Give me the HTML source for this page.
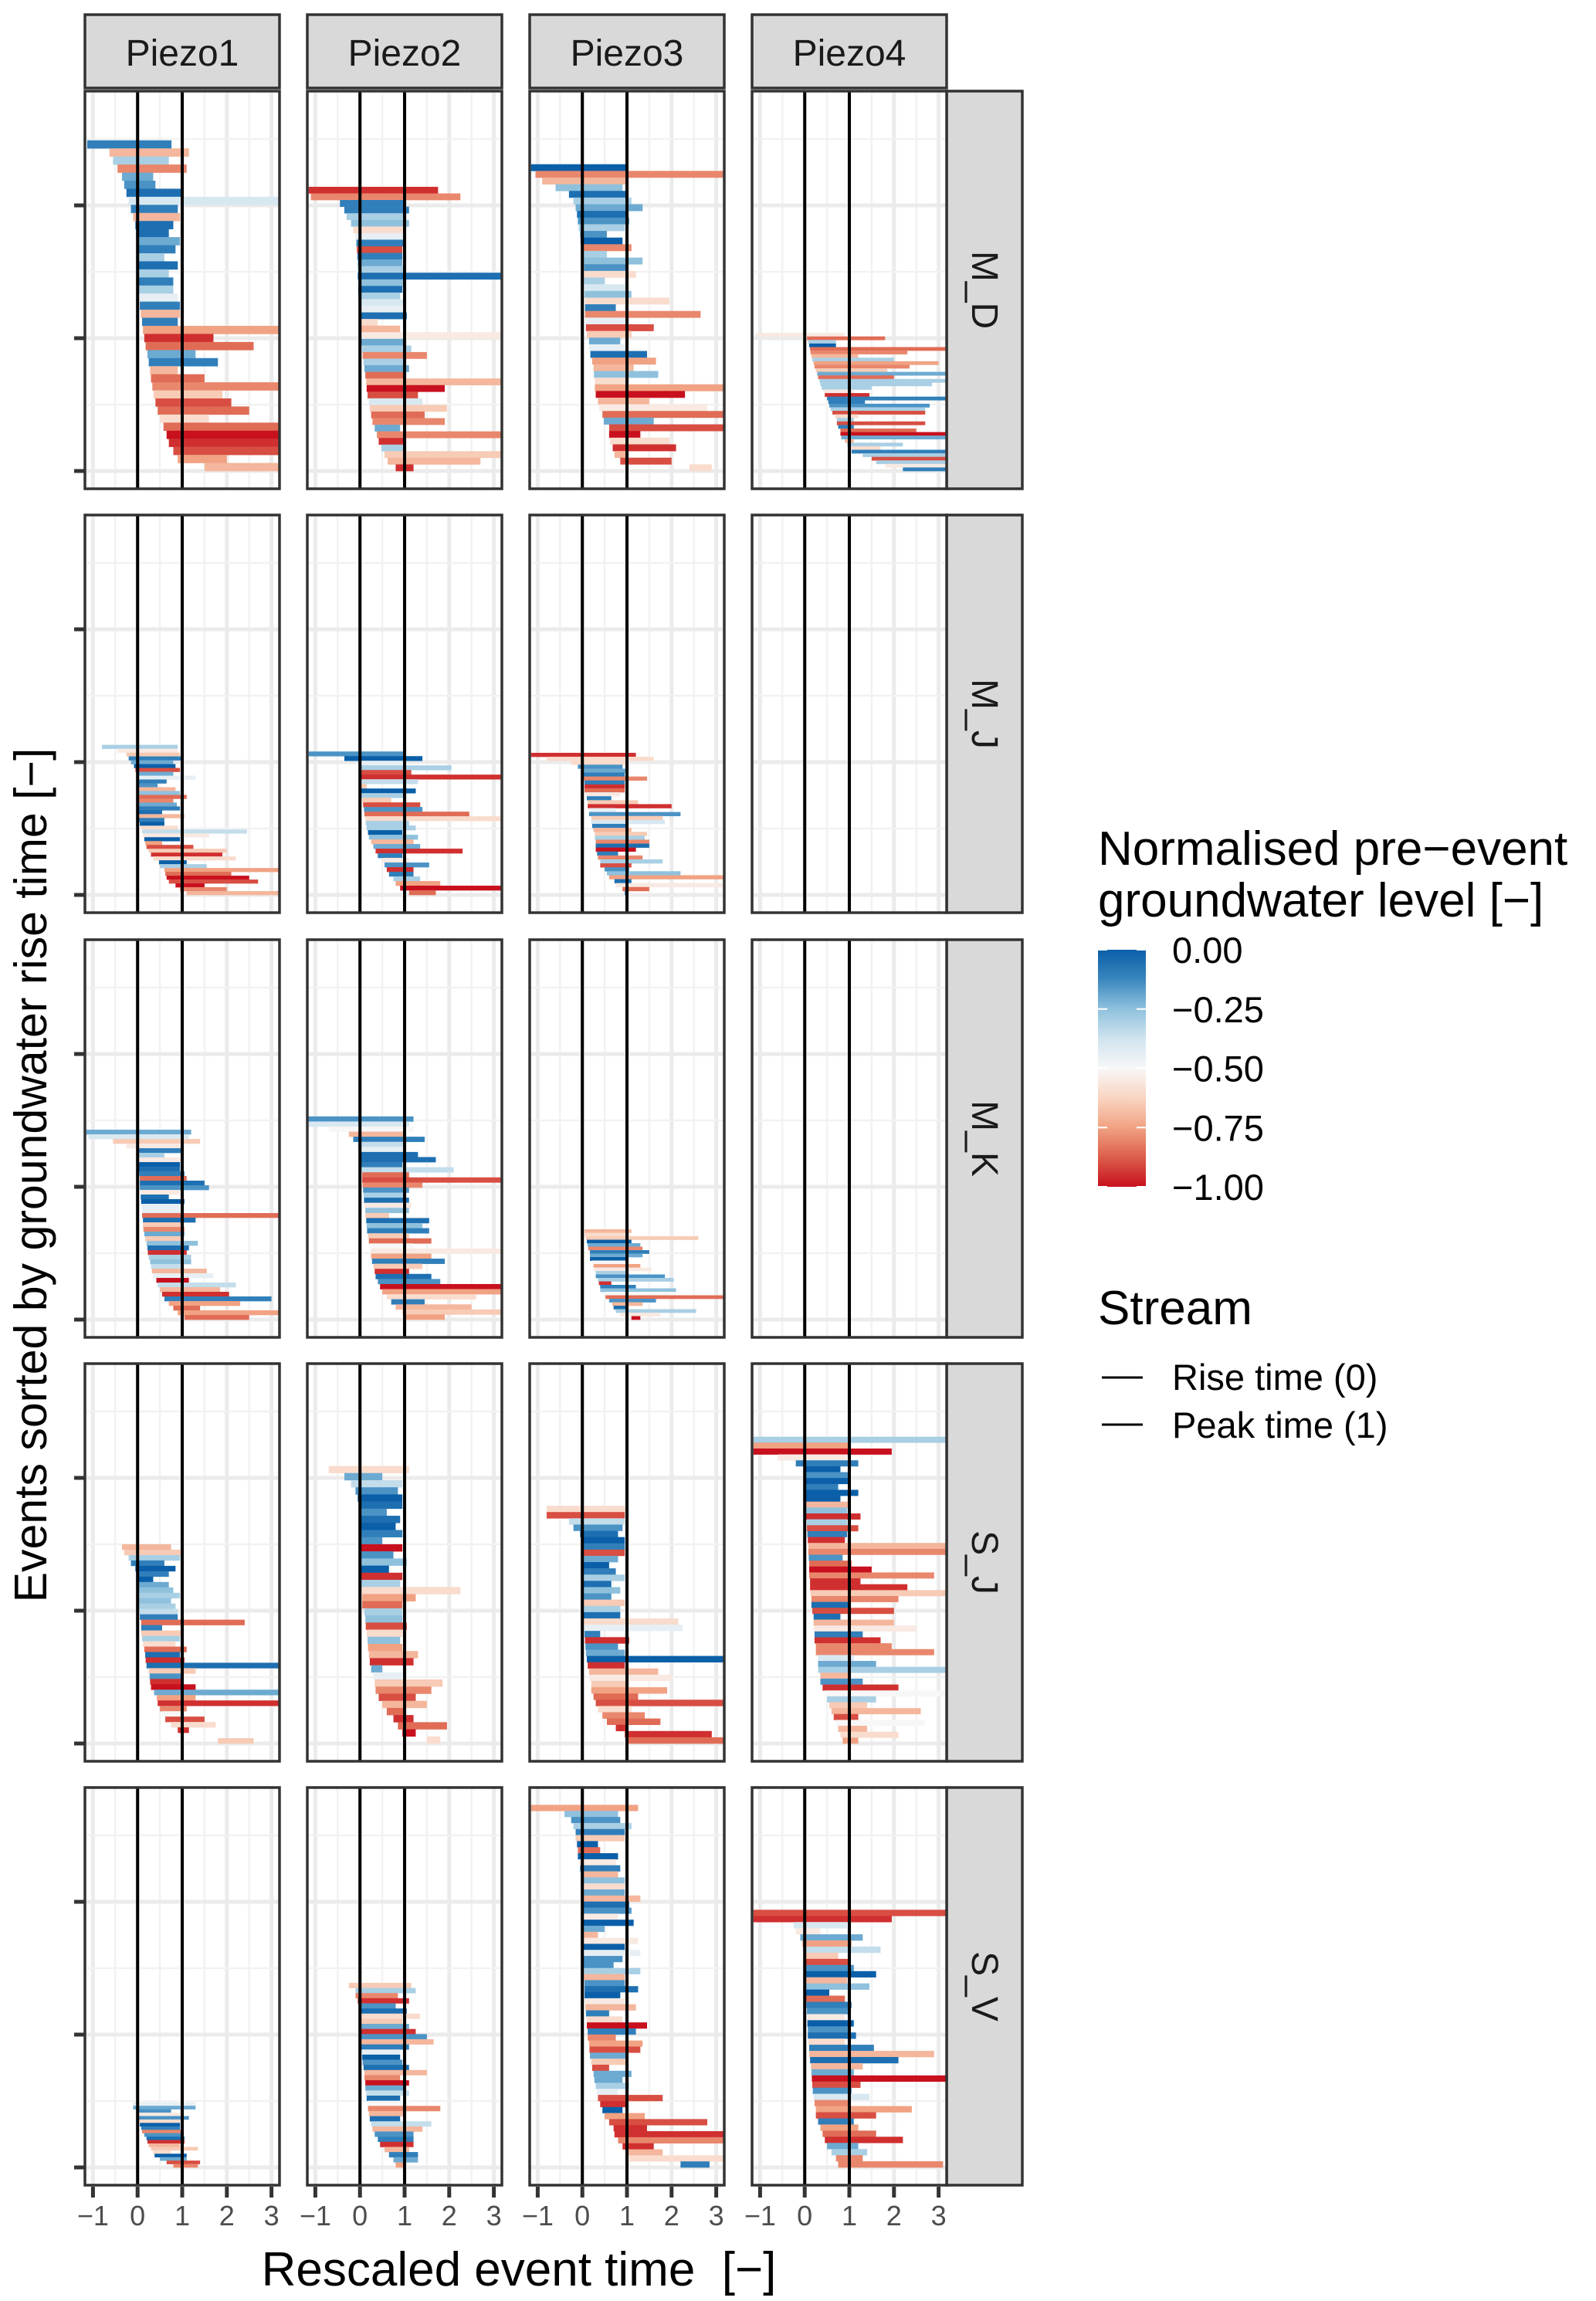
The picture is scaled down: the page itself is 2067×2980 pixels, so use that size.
<!DOCTYPE html>
<html><head><meta charset="utf-8">
<style>
html,body{margin:0;padding:0;background:#fff;}
svg{display:block;font-family:"Liberation Sans",Arial,sans-serif;}
</style></head>
<body>
<svg id="chart" width="2067" height="2980" viewBox="0 0 2067 2980" xmlns="http://www.w3.org/2000/svg">
<rect width="2067" height="2980" fill="#fff"/>
<g id="panels"></g>
<text transform="translate(60,1522) rotate(-90)" text-anchor="middle" font-size="59" fill="#000">Events sorted by groundwater rise time [−]</text>
<text x="672" y="2960" text-anchor="middle" font-size="62" fill="#000" xml:space="preserve">Rescaled event time  [−]</text>
<g>
<text x="1422" y="1120" font-size="62" fill="#000">Normalised pre−event</text>
<text x="1422" y="1187" font-size="62" fill="#000">groundwater level [−]</text>
<defs><linearGradient id="rdbu" x1="0" y1="0" x2="0" y2="1">
<stop offset="0" stop-color="#0a5fa8"/><stop offset="0.125" stop-color="#3a87bf"/><stop offset="0.25" stop-color="#8fc1dd"/><stop offset="0.375" stop-color="#d0e4ef"/><stop offset="0.5" stop-color="#f7f7f7"/><stop offset="0.625" stop-color="#f9d5c2"/><stop offset="0.75" stop-color="#f1a283"/><stop offset="0.875" stop-color="#dc5e4b"/><stop offset="1" stop-color="#c8101e"/>
</linearGradient></defs>
<rect x="1422" y="1230" width="62" height="307" fill="url(#rdbu)"/>
<g id="cbticks"></g>
</g>
<g>
<text x="1422" y="1715" font-size="62" fill="#000">Stream</text>
<line x1="1427" y1="1784" x2="1480" y2="1784" stroke="#000" stroke-width="3"/>
<text x="1518" y="1800" font-size="47" fill="#000">Rise time (0)</text>
<line x1="1427" y1="1845" x2="1480" y2="1845" stroke="#000" stroke-width="3"/>
<text x="1518" y="1862" font-size="47" fill="#000">Peak time (1)</text>
</g>
</svg>
<script>
const piezos = ["Piezo1","Piezo2","Piezo3","Piezo4"];
const sites = ["M_D","M_J","M_K","S_J","S_V"];
const xTicks = [-1,0,1,2,3];
const xTickLabels = ["−1","0","1","2","3"];
const yTicks = [0,100,200];
const legendValues = [0,-0.25,-0.5,-0.75,-1];
const legendLabels = ["0.00","−0.25","−0.50","−0.75","−1.00"];
// number of events per panel [site][piezo]
const counts = [[249,214,231,104],[113,108,107,0],[143,153,68,0],[150,209,179,231],[49,139,273,194]];
// events top->bottom: [start, end, level]
const d_MD_1=[[-1.13,0.76,-0.1],[-0.63,1.15,-0.7],[-0.55,0.7,-0.3],[-0.45,1.1,-0.8],[-0.35,0.35,-0.2],[-0.3,0.4,-0.15],[-0.25,1.0,-0.05],[-0.2,3.2,-0.4],[-0.15,0.9,-0.1],[-0.1,0.95,-0.7],[-0.05,0.8,-0.05],[0.0,0.7,-0.05],[0.02,0.95,-0.2],[0.03,0.85,-0.1],[0.03,0.6,-0.3],[0.03,0.9,-0.05],[0.03,0.7,-0.3],[0.03,0.8,-0.1],[0.03,0.8,-0.3],[0.04,0.9,-0.45],[0.05,0.95,-0.1],[0.07,0.95,-0.7],[0.1,0.9,-0.1],[0.12,3.2,-0.75],[0.15,1.7,-0.95],[0.18,2.6,-0.85],[0.22,1.3,-0.2],[0.25,1.8,-0.1],[0.28,0.9,-0.7],[0.3,1.5,-0.85],[0.33,3.2,-0.8],[0.36,1.9,-0.65],[0.4,2.1,-0.9],[0.45,2.5,-0.85],[0.5,1.6,-0.6],[0.58,3.2,-0.85],[0.65,3.2,-1],[0.7,3.2,-0.95],[0.8,3.2,-0.9],[0.9,2.0,-0.75],[1.5,3.2,-0.7]];
const d_MD_2=[[-1.15,1.75,-0.95],[-1.1,2.25,-0.8],[-0.45,1.0,-0.1],[-0.35,1.1,-0.1],[-0.3,1.0,-0.3],[-0.2,1.1,-0.25],[-0.15,1.0,-0.6],[-0.1,1.0,-0.45],[-0.08,1.0,-0.1],[-0.07,0.95,-0.9],[-0.06,0.95,-0.1],[-0.05,0.95,-0.2],[-0.05,1.0,-0.3],[-0.05,3.2,-0.05],[-0.04,1.0,-0.25],[-0.04,0.95,-0.05],[-0.04,0.9,-0.3],[-0.03,1.0,-0.4],[-0.03,0.95,-0.45],[-0.02,1.05,-0.05],[0.0,0.4,-0.6],[0.01,0.9,-0.7],[0.02,3.2,-0.55],[0.03,1.0,-0.2],[0.05,1.15,-0.3],[0.06,1.5,-0.8],[0.08,1.0,-0.3],[0.1,1.1,-0.2],[0.12,1.0,-0.85],[0.14,3.2,-0.7],[0.15,1.9,-1],[0.17,1.3,-0.9],[0.2,1.4,-0.4],[0.22,1.95,-0.65],[0.25,1.45,-0.85],[0.28,1.9,-0.8],[0.33,0.9,-0.2],[0.38,3.2,-0.8],[0.42,1.0,-0.95],[0.48,1.0,-0.3],[0.55,3.2,-0.65],[0.62,2.7,-0.7],[0.8,1.2,-0.95]];
const d_MD_3=[[-1.15,1.0,0],[-1.05,3.2,-0.8],[-0.9,1.0,-0.7],[-0.6,0.9,-0.25],[-0.3,1.0,-0.05],[-0.2,1.1,-0.3],[-0.15,1.35,-0.2],[-0.12,1.0,-0.05],[-0.1,1.05,-0.15],[-0.08,0.95,-0.3],[-0.05,0.55,-0.15],[-0.04,0.9,0],[-0.03,1.1,-0.8],[0.02,0.55,-0.3],[0.03,1.35,-0.25],[0.04,1.0,-0.15],[0.04,1.2,-0.6],[0.04,0.5,-0.3],[0.05,1.0,-0.4],[0.05,1.1,-0.25],[0.06,1.95,-0.6],[0.06,0.75,-0.1],[0.06,2.65,-0.8],[0.07,1.0,-0.45],[0.08,1.6,-0.9],[0.1,1.1,-0.65],[0.15,0.85,-0.2],[0.15,1.0,-0.45],[0.18,1.45,-0.05],[0.22,1.65,-0.75],[0.25,1.15,-0.7],[0.26,1.7,-0.25],[0.28,1.0,-0.6],[0.28,3.2,-0.75],[0.3,2.3,-1],[0.35,1.5,-0.7],[0.38,2.8,-0.55],[0.45,3.2,-0.85],[0.48,1.6,-0.2],[0.6,3.2,-0.9],[0.6,1.3,-1],[0.62,1.95,-0.6],[0.68,2.1,-0.95],[0.72,1.0,-0.7],[0.85,2.0,-0.9],[2.4,2.9,-0.6]];
const d_MD_4=[[-1.1,0.9,-0.55],[0.05,1.8,-0.85],[0.08,0.7,-0.3],[0.1,0.7,0],[0.12,3.2,-0.85],[0.13,2.3,-0.8],[0.15,1.2,-0.7],[0.17,2.0,-0.3],[0.2,3.0,-0.75],[0.22,2.35,-0.8],[0.25,1.85,-0.65],[0.28,3.2,-0.2],[0.3,2.0,-0.85],[0.33,3.2,-0.3],[0.35,2.85,-0.3],[0.38,1.5,-0.3],[0.42,1.1,-0.55],[0.45,1.45,-0.95],[0.5,3.2,-0.1],[0.53,1.35,-0.1],[0.55,2.8,-0.15],[0.58,2.7,-0.3],[0.62,2.7,-0.9],[0.68,1.2,-0.6],[0.72,1.1,-0.3],[0.72,2.7,-0.9],[0.75,1.1,-0.1],[0.8,2.5,-0.85],[0.8,3.2,-1],[0.82,3.2,-0.2],[0.9,1.1,-0.7],[0.95,2.2,-0.3],[1.0,1.7,-0.6],[1.05,3.2,-0.1],[1.3,3.2,-0.3],[1.5,3.2,-0.9],[1.6,3.2,-0.3],[1.8,3.2,-0.55],[2.2,3.2,-0.1]];
const d_MJ_1=[[-0.8,0.9,-0.3],[-0.45,0.9,-0.55],[-0.25,0.95,-0.65],[-0.2,1.0,-0.1],[-0.15,0.8,-0.2],[-0.08,0.85,0],[-0.05,0.95,-0.9],[0.0,0.8,-0.2],[0.02,1.3,-0.45],[0.02,0.65,-0.1],[0.02,0.45,-0.15],[0.02,0.85,-0.7],[0.02,0.95,-0.25],[0.02,1.1,-0.85],[0.02,0.8,-0.8],[0.02,0.88,-0.2],[0.02,0.95,-0.1],[0.02,0.55,-0.05],[0.02,1.05,-0.7],[0.02,0.6,-0.1],[0.05,0.6,0],[0.07,0.9,-0.6],[0.1,2.45,-0.35],[0.12,1.6,-0.55],[0.15,0.95,0],[0.17,0.55,-0.75],[0.2,1.25,-0.9],[0.25,2.0,-0.65],[0.3,1.9,-0.95],[0.35,2.2,-0.6],[0.48,1.1,0],[0.5,1.55,-0.3],[0.6,3.2,-0.75],[0.62,2.1,-0.85],[0.65,2.5,-1],[0.7,2.7,-0.9],[0.85,1.5,-1],[0.95,2.0,-0.8],[1.1,3.2,-0.7]];
const d_MJ_2=[[-1.15,1.0,-0.15],[-0.35,1.4,0],[0.0,1.0,-0.45],[0.02,2.05,-0.3],[0.02,1.15,-0.9],[0.02,3.2,-0.95],[0.02,1.3,-0.35],[0.02,0.15,-0.65],[0.02,1.25,0],[0.02,1.0,-0.3],[0.05,0.7,-0.65],[0.07,1.35,-0.9],[0.09,1.4,-0.15],[0.1,2.45,-0.85],[0.12,3.2,-0.6],[0.13,1.1,-0.3],[0.15,1.25,-0.3],[0.18,0.95,0],[0.2,1.3,-0.25],[0.25,1.2,-0.7],[0.3,1.35,-0.2],[0.35,2.3,-0.95],[0.4,0.95,-0.1],[0.5,1.1,-0.55],[0.55,1.55,-0.15],[0.6,1.2,-0.95],[0.65,1.2,-0.1],[0.75,1.35,-0.3],[0.8,1.8,-0.75],[0.9,3.2,-1],[1.1,1.7,-0.85]];
const d_MJ_3=[[-1.15,1.2,-0.95],[-0.8,1.6,-0.6],[-0.25,1.0,-0.6],[-0.1,0.9,-0.15],[0.02,1.0,-0.2],[0.02,0.95,-0.1],[0.03,1.45,-0.8],[0.05,0.95,-0.1],[0.05,0.95,-0.95],[0.05,0.95,-0.85],[0.07,0.85,-0.55],[0.1,0.65,-0.1],[0.12,1.25,-0.65],[0.12,2.0,-0.95],[0.15,0.75,-0.45],[0.15,2.2,-0.15],[0.2,1.8,-0.65],[0.2,1.85,-0.4],[0.22,1.0,-0.1],[0.25,1.1,-0.7],[0.28,1.45,-0.65],[0.28,1.4,-0.3],[0.3,1.5,-0.8],[0.3,1.5,-0.05],[0.3,1.2,-1],[0.33,0.8,-0.1],[0.35,1.35,-0.8],[0.4,1.8,-0.3],[0.4,1.1,-0.9],[0.5,1.05,-0.15],[0.55,2.2,-0.25],[0.6,3.2,-0.75],[0.72,1.1,-0.05],[0.75,3.2,-0.55],[0.9,1.5,-0.85],[0.95,1.0,-0.1]];
const d_MK_1=[[-1.15,1.2,-0.2],[-1.1,1.15,-0.4],[-0.55,1.4,-0.65],[-0.25,1.0,-0.55],[0.02,1.0,-0.1],[0.02,0.6,-0.3],[0.02,1.0,-0.55],[0.03,0.95,0],[0.03,0.95,-0.05],[0.04,1.05,-0.1],[0.05,1.1,-0.85],[0.05,1.5,-0.05],[0.05,1.6,-0.15],[0.06,0.95,-0.55],[0.07,0.7,-0.05],[0.08,1.05,0],[0.09,0.95,-0.45],[0.1,0.95,-0.45],[0.1,3.2,-0.85],[0.12,1.3,-0.05],[0.12,1.0,-0.65],[0.13,1.05,-0.8],[0.15,1.05,-0.2],[0.17,1.0,-0.65],[0.2,1.35,-0.25],[0.22,1.15,-0.05],[0.23,1.1,-0.95],[0.25,1.2,-0.3],[0.28,1.2,-0.25],[0.3,1.0,-0.35],[0.32,1.55,-0.7],[0.35,1.7,-0.45],[0.42,1.15,-1],[0.45,2.2,-0.35],[0.5,1.85,-0.7],[0.55,2.05,-0.95],[0.6,3.0,-0.1],[0.7,2.3,-0.75],[0.8,1.4,-0.85],[0.9,3.2,-0.75],[1.05,2.5,-0.85]];
const d_MK_2=[[-1.18,1.2,-0.15],[-1.15,1.1,-0.4],[-0.7,1.2,-0.5],[-0.25,1.0,-0.7],[-0.15,1.45,-0.1],[-0.05,1.0,-0.35],[0.0,1.0,-0.45],[0.02,1.3,-0.05],[0.02,1.7,-0.05],[0.03,0.95,-0.1],[0.04,2.1,-0.35],[0.05,1.1,-0.85],[0.05,3.2,-0.9],[0.06,1.4,-0.8],[0.07,1.1,-0.15],[0.08,1.0,-0.3],[0.09,1.1,-0.05],[0.1,1.15,-0.55],[0.12,1.1,-0.25],[0.12,0.65,-0.65],[0.14,1.55,-0.05],[0.15,1.4,-0.25],[0.16,1.55,-0.1],[0.18,1.1,-0.65],[0.2,1.6,-0.85],[0.22,1.2,-0.5],[0.24,3.2,-0.55],[0.25,1.6,-0.75],[0.27,1.9,-0.1],[0.3,1.4,-0.65],[0.33,1.1,-0.95],[0.35,1.6,-0.05],[0.4,1.8,-0.15],[0.45,3.2,-1],[0.5,3.2,-0.75],[0.6,2.6,-0.6],[0.7,1.45,-0.1],[0.8,2.5,-0.7],[0.95,3.2,-0.65],[1.0,1.9,-0.75]];
const d_MK_3=[[0.05,1.1,-0.7],[0.05,1.05,-0.6],[0.08,2.6,-0.65],[0.1,1.1,0],[0.12,1.3,-0.2],[0.13,1.35,-0.8],[0.17,1.5,-0.1],[0.17,1.35,-0.2],[0.17,1.0,0],[0.22,1.0,-0.5],[0.25,1.3,-0.75],[0.27,1.55,-0.55],[0.3,1.0,-0.3],[0.3,1.85,-0.15],[0.35,2.05,-0.3],[0.37,0.65,-0.95],[0.4,1.2,-0.1],[0.4,2.1,-0.25],[0.5,2.1,-0.5],[0.52,3.2,-0.85],[0.6,1.65,-0.15],[0.67,1.35,-0.7],[0.7,1.0,-0.05],[0.75,2.55,-0.3],[0.85,1.75,-0.55],[1.1,1.3,-1]];
const d_SJ_1=[[-0.35,0.75,-0.7],[-0.3,1.0,-0.65],[-0.2,0.95,-0.3],[-0.15,0.6,-0.1],[-0.05,0.85,0],[0.02,0.7,-0.1],[0.02,0.35,0],[0.02,0.7,-0.2],[0.02,0.8,-0.25],[0.02,0.95,-0.3],[0.02,0.75,-0.25],[0.02,0.85,-0.3],[0.02,0.9,-0.35],[0.05,0.9,-0.1],[0.08,2.4,-0.85],[0.08,0.55,-0.1],[0.08,1.0,-0.65],[0.1,0.95,-0.3],[0.12,0.85,-0.6],[0.15,1.1,-0.85],[0.17,0.95,-0.05],[0.18,1.05,-0.95],[0.2,3.2,-0.05],[0.25,1.3,-0.65],[0.27,1.0,-0.15],[0.28,1.0,-0.95],[0.3,1.3,-1],[0.37,3.2,-0.2],[0.43,1.3,-0.75],[0.45,3.2,-0.95],[0.5,1.1,-0.8],[0.55,1.0,-0.5],[0.62,1.5,-0.9],[0.75,1.75,-0.6],[0.9,1.15,-0.95],[1.0,1.0,-0.5],[1.8,2.6,-0.65]];
const d_SJ_2=[[-0.7,1.1,-0.6],[-0.35,0.5,-0.2],[-0.2,0.95,-0.35],[-0.1,0.85,-0.15],[-0.05,0.95,0],[0.0,0.95,-0.05],[0.02,0.6,-0.15],[0.02,0.9,-0.05],[0.02,0.8,0],[0.02,0.95,-0.1],[0.02,0.5,-0.15],[0.02,0.95,-1],[0.02,0.75,-0.15],[0.02,1.05,-0.25],[0.02,0.65,0],[0.02,0.95,-0.95],[0.03,0.9,-0.3],[0.04,2.25,-0.6],[0.05,1.25,-0.75],[0.05,0.95,-0.85],[0.1,0.95,-0.3],[0.12,0.95,-0.25],[0.13,1.05,-0.9],[0.15,0.95,-0.6],[0.17,0.9,-0.25],[0.18,0.95,-0.75],[0.2,1.3,-0.7],[0.22,1.2,-0.95],[0.25,0.5,-0.2],[0.3,0.95,-0.45],[0.33,1.85,-0.65],[0.35,1.6,-0.8],[0.42,1.25,-0.9],[0.5,1.5,-0.7],[0.6,1.0,-0.85],[0.75,1.2,-0.95],[0.85,1.95,-0.85],[0.95,1.25,-1],[1.5,1.8,-0.6]];
const d_SJ_3=[[-0.8,1.0,-0.6],[-0.8,0.95,-0.9],[-0.3,0.95,-0.35],[-0.2,0.9,-0.15],[-0.05,0.8,-0.05],[0.0,0.95,0],[0.02,0.95,-0.1],[0.02,0.95,-0.9],[0.02,0.8,-0.2],[0.02,0.6,0],[0.02,0.75,-0.1],[0.02,0.95,-0.3],[0.02,0.65,-0.05],[0.02,0.85,-0.25],[0.02,0.65,-0.15],[0.02,0.95,-0.65],[0.02,0.85,-0.3],[0.02,0.85,-0.05],[0.03,2.15,-0.6],[0.04,2.25,-0.45],[0.05,0.4,-0.1],[0.06,1.05,-0.95],[0.07,0.8,-0.15],[0.08,0.95,-0.2],[0.1,3.2,0],[0.12,0.95,-0.95],[0.15,1.7,-0.7],[0.17,2.0,-0.55],[0.2,1.0,-0.65],[0.2,1.9,-0.75],[0.25,1.25,-0.85],[0.3,3.2,-0.9],[0.35,1.1,-0.6],[0.45,1.4,-0.8],[0.55,1.75,-0.85],[0.75,1.0,-0.95],[0.95,2.9,-0.95],[1.0,3.2,-0.85]];
const d_SJ_4=[[-1.15,3.2,-0.3],[-1.15,1.0,-0.75],[-1.15,1.95,-1],[-0.6,0.95,-0.55],[-0.2,1.2,-0.1],[0.02,0.8,0],[0.02,1.0,-0.15],[0.02,1.0,0],[0.02,0.75,-0.1],[0.02,1.2,0],[0.02,0.8,0],[0.03,1.0,-0.7],[0.03,0.95,-0.25],[0.03,1.25,-0.95],[0.05,0.95,-0.3],[0.05,1.2,-0.9],[0.06,0.95,-0.1],[0.07,0.9,-0.95],[0.08,3.2,-0.7],[0.08,3.2,-0.8],[0.09,0.85,-0.15],[0.1,1.05,-0.85],[0.1,1.5,-1],[0.1,2.9,-0.8],[0.12,1.25,-0.95],[0.12,2.3,-0.95],[0.13,3.2,-0.65],[0.15,2.1,-0.8],[0.15,1.0,-0.05],[0.17,2.0,-0.9],[0.2,0.8,-0.05],[0.2,2.0,-0.7],[0.2,2.5,-0.55],[0.22,1.3,-0.1],[0.22,1.7,-0.95],[0.25,1.95,-0.8],[0.25,2.9,-0.8],[0.3,1.1,-0.4],[0.3,1.6,-0.2],[0.3,3.2,-0.3],[0.35,1.0,-0.7],[0.35,1.3,-0.15],[0.4,2.1,-0.95],[0.45,3.2,-0.5],[0.5,1.6,-0.3],[0.55,1.4,-0.65],[0.6,2.6,-0.7],[0.65,1.2,-0.9],[0.7,2.7,-0.5],[0.75,1.4,-0.7],[0.8,2.1,-0.6],[0.85,1.2,-0.75]];
const d_SV_1=[[-0.1,1.3,-0.45],[-0.1,1.3,-0.2],[0.02,0.75,-0.15],[0.02,1.0,-0.55],[0.03,1.15,-0.15],[0.04,0.95,-0.6],[0.05,0.95,0],[0.08,0.95,-0.1],[0.1,1.0,-0.8],[0.15,1.0,-0.15],[0.2,1.05,-0.05],[0.22,1.05,-0.95],[0.25,0.95,-0.7],[0.3,1.35,-0.65],[0.35,0.75,-0.6],[0.38,1.1,0],[0.5,1.1,-0.2],[0.65,1.4,-0.9],[0.8,1.35,-0.8]];
const d_SV_2=[[-0.25,1.15,-0.65],[-0.1,1.25,-0.3],[-0.1,0.85,-0.8],[-0.05,1.1,-0.95],[0.02,0.8,-0.15],[0.02,1.05,-0.05],[0.02,1.35,-0.6],[0.02,0.95,-0.65],[0.02,1.1,-0.2],[0.02,1.25,-0.95],[0.02,1.5,-0.15],[0.03,1.65,-0.7],[0.03,1.1,-0.1],[0.04,0.9,-0.45],[0.05,0.9,0],[0.06,0.95,-0.15],[0.08,1.1,-0.05],[0.1,1.5,-0.7],[0.1,0.9,-0.8],[0.12,1.1,-1],[0.12,1.0,-0.2],[0.14,1.1,-0.35],[0.15,0.9,-0.05],[0.17,1.1,-0.5],[0.18,1.8,-0.8],[0.2,1.0,-0.7],[0.22,0.9,-0.05],[0.25,1.6,-0.35],[0.28,1.4,-0.7],[0.33,1.2,-0.15],[0.4,1.2,-0.1],[0.45,1.2,-0.95],[0.55,1.1,-0.7],[0.65,1.3,-0.1],[0.75,1.3,-0.2],[0.8,1.0,-0.75]];
const d_SV_3=[[-1.15,1.25,-0.75],[-0.4,0.8,-0.25],[-0.25,0.85,-0.15],[-0.2,1.1,-0.3],[-0.15,0.95,-0.1],[-0.15,0.95,-0.65],[-0.12,0.35,0],[-0.1,0.4,-0.85],[-0.1,0.8,0],[-0.07,0.75,-0.55],[-0.05,0.85,-0.1],[-0.03,0.8,-0.7],[0.02,0.95,-0.25],[0.02,0.95,-0.6],[0.02,0.95,-0.2],[0.02,1.3,-0.7],[0.02,1.05,-0.05],[0.02,1.1,-0.15],[0.02,0.8,-0.55],[0.02,1.15,0],[0.02,0.5,-0.2],[0.02,0.35,-0.7],[0.02,1.25,-0.55],[0.02,0.95,0],[0.02,1.3,-0.45],[0.02,0.9,-0.15],[0.02,0.7,-0.15],[0.04,1.3,-0.3],[0.04,0.95,-0.7],[0.05,0.95,-0.15],[0.05,1.25,-0.05],[0.05,0.85,0],[0.06,0.95,-0.55],[0.07,1.2,-0.7],[0.08,0.6,-0.1],[0.1,0.9,-0.6],[0.1,1.45,-1],[0.12,1.2,-0.1],[0.12,0.75,-0.8],[0.15,1.35,-0.75],[0.16,1.3,-0.9],[0.17,1.0,-0.2],[0.2,1.0,-0.65],[0.22,0.6,-0.9],[0.25,1.1,-0.2],[0.27,0.9,-0.2],[0.3,1.05,-0.3],[0.33,0.8,-0.45],[0.35,1.8,-0.9],[0.4,1.0,-0.95],[0.45,0.9,0],[0.5,1.4,-0.75],[0.6,2.8,-0.9],[0.7,1.45,-0.95],[0.72,3.2,-0.95],[0.8,3.2,-0.8],[0.9,1.6,-0.95],[1.0,1.8,-0.7],[1.05,3.2,-0.6],[2.2,2.85,-0.1]];
const d_SV_4=[[-1.15,3.2,-0.9],[-1.15,1.95,-0.95],[-0.25,0.95,-0.4],[-0.2,0.35,-0.55],[-0.1,1.3,-0.2],[-0.05,1.05,-0.75],[0.02,1.7,-0.35],[0.02,0.75,-0.65],[0.02,1.0,-0.9],[0.02,1.1,-0.15],[0.02,1.6,0],[0.02,0.95,-0.7],[0.02,1.45,-0.25],[0.02,0.55,0],[0.03,0.9,-0.85],[0.04,1.05,-0.1],[0.05,1.0,-0.15],[0.06,0.9,-0.55],[0.06,1.1,0],[0.07,1.0,-0.15],[0.07,1.15,-0.05],[0.08,0.9,-0.6],[0.1,1.55,-0.1],[0.1,2.9,-0.7],[0.12,2.1,-0.05],[0.14,1.3,-0.7],[0.15,1.1,-0.2],[0.16,3.2,-1],[0.17,1.25,-0.9],[0.18,1.05,-0.15],[0.2,1.45,-0.4],[0.22,1.0,-0.8],[0.25,2.4,-0.75],[0.25,1.6,-0.9],[0.3,1.1,-0.1],[0.35,1.2,-0.75],[0.4,1.6,-0.85],[0.45,2.2,-0.95],[0.5,1.2,-0.2],[0.6,1.4,-0.3],[0.7,1.3,-0.8],[0.75,3.1,-0.8]];
const panelData=[[d_MD_1,d_MD_2,d_MD_3,d_MD_4],[d_MJ_1,d_MJ_2,d_MJ_3,[]],[d_MK_1,d_MK_2,d_MK_3,[]],[d_SJ_1,d_SJ_2,d_SJ_3,d_SJ_4],[d_SV_1,d_SV_2,d_SV_3,d_SV_4]];

const NS="http://www.w3.org/2000/svg";
const colLeft=[110,398,686,974], PW=252;
const rowTop=[118,667,1217,1766,2315], PH=515;
const XMIN=-1.18, XMAX=3.18;
function xs(c,v){return colLeft[c]+(v-XMIN)/(XMAX-XMIN)*PW;}
function ys(r,rank){return rowTop[r]+492-rank*1.72;}
const stops=[[0,[10,95,168]],[-0.125,[58,135,191]],[-0.25,[143,193,221]],[-0.375,[208,228,239]],[-0.5,[247,247,247]],[-0.625,[249,213,194]],[-0.75,[241,162,131]],[-0.875,[220,94,75]],[-1,[200,16,30]]];
function col(v){v=Math.max(-1,Math.min(0,v));for(let i=0;i<stops.length-1;i++){const a=stops[i],b=stops[i+1];if(v<=a[0]&&v>=b[0]){const t=(a[0]-v)/(a[0]-b[0]);const c=a[1].map((x,k)=>Math.round(x+(b[1][k]-x)*t));return `rgb(${c[0]},${c[1]},${c[2]})`;}}return "#ccc";}
function mk(tag,attrs,parent){const e=document.createElementNS(NS,tag);for(const k in attrs)e.setAttribute(k,attrs[k]);parent.appendChild(e);return e;}
const root=document.getElementById('panels');

piezos.forEach((p,c)=>{
  const g=mk('g',{},root);
  
  
  mk('rect',{x:colLeft[c],y:19,width:PW,height:95,fill:'#d9d9d9',stroke:'#333','stroke-width':3.5},g);
  const t=mk('text',{x:colLeft[c]+PW/2,y:85,'text-anchor':'middle','font-size':48,fill:'#1a1a1a'},g);
  t.textContent=p;
});
sites.forEach((s,r)=>{
  const g=mk('g',{},root);
  
  
  mk('rect',{x:1226,y:rowTop[r],width:98,height:PH,fill:'#d9d9d9',stroke:'#333','stroke-width':3.5},g);
  const t=mk('text',{transform:`translate(1259,${rowTop[r]+PH/2}) rotate(90)`,'text-anchor':'middle','font-size':48,fill:'#1a1a1a'},g);
  t.textContent=s;
  yTicks.forEach(v=>{
    const l=mk('line',{x1:96,x2:110,y1:ys(r,v),y2:ys(r,v),stroke:'#333','stroke-width':5},root);
    
    
  });
});

for(let r=0;r<5;r++){for(let c=0;c<4;c++){
  const g=mk('g',{},root);
  
  
  const L=colLeft[c],T=rowTop[r];
  mk('rect',{x:L,y:T,width:PW,height:PH,fill:'#fff'},g);
  for(let v=-1;v<=3;v+=0.5){const major=Number.isInteger(v);
    mk('line',{x1:xs(c,v),x2:xs(c,v),y1:T,y2:T+PH,stroke:major?'#ebebeb':'#f2f2f2','stroke-width':major?5:2.5},g);}
  for(let v=-50;v<=300;v+=50){const y=ys(r,v);if(y<T||y>T+PH)continue;const major=v%100===0;
    mk('line',{x1:L,x2:L+PW,y1:y,y2:y,stroke:major?'#ebebeb':'#f2f2f2','stroke-width':major?5:2.5},g);}
  const data=panelData[r][c], N=counts[r][c], K=data.length;
  if(K){const step=N/K, h=step*1.72;
    data.forEach((e,i)=>{
      const rank=N-i*step;
      const x1=xs(c,Math.max(XMIN,e[0])), x2=xs(c,Math.min(XMAX,e[1]));
      const b=mk('rect',{x:x1,y:ys(r,rank),width:Math.max(1.5,x2-x1),height:h+0.3,fill:col(e[2])},g);
      
      
    });}
  [0,1].forEach(v=>{
    const l=mk('line',{x1:xs(c,v),x2:xs(c,v),y1:T,y2:T+PH,stroke:'#000','stroke-width':4},g);
    
    
  });
  mk('rect',{x:L,y:T,width:PW,height:PH,fill:'none',stroke:'#333','stroke-width':3.5},g);
}}
piezos.forEach((p,c)=>{
  xTicks.forEach((v,i)=>{
    const l=mk('line',{x1:xs(c,v),x2:xs(c,v),y1:2832,y2:2846,stroke:'#333','stroke-width':5},root);
    
    
    const t=mk('text',{x:xs(c,v),y:2882,'text-anchor':'middle','font-size':36,fill:'#4d4d4d'},root);
    
    
    t.textContent=xTickLabels[i];
  });
});
const cb=document.getElementById('cbticks');
legendValues.forEach((v,i)=>{
  const y=1230+(-v)*307;
  mk('line',{x1:1422,x2:1434,y1:y,y2:y,stroke:'#fff','stroke-width':2},cb);
  mk('line',{x1:1472,x2:1484,y1:y,y2:y,stroke:'#fff','stroke-width':2},cb);
  const t=mk('text',{x:1518,y:y+17,'font-size':47,fill:'#000'},cb);
  
  
  t.textContent=legendLabels[i];
});
</script>
</body></html>
